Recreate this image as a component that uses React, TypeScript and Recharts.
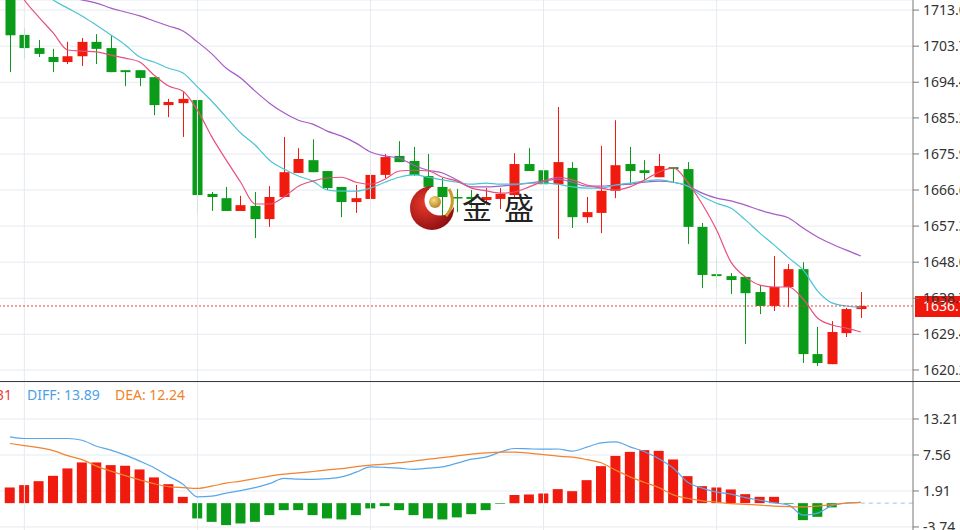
import React from "react";
import { ComposedChart, Bar, Line, XAxis, YAxis, CartesianGrid, ReferenceLine, Cell } from "recharts";

// candles (price units)
const open = [1718.2, 1706.6, 1703.2, 1700.9, 1699.6, 1701.1, 1704.8, 1703.2, 1697.5, 1697.5,
  1695.7, 1688.5, 1689.0, 1689.8, 1665.6, 1664.5, 1661.2, 1662.5, 1659.1, 1664.8,
  1671.0, 1674.3, 1671.5, 1667.4, 1663.5, 1664.3, 1670.5, 1675.4, 1674.1, 1670.2,
  1667.4, 1664.8, 1664.8, 1664.0, 1664.3, 1665.3, 1673.3, 1671.7, 1668.1, 1672.3,
  1659.6, 1660.7, 1666.4, 1673.3, 1671.7, 1669.9, 1672.5, 1672.0, 1657.1, 1644.9,
  1644.4, 1644.2, 1640.3, 1636.7, 1641.6, 1646.2, 1624.3, 1621.7, 1629.7, 1635.9]
const high = [1719.4, 1708.4, 1705.3, 1703.0, 1704.8, 1705.8, 1706.8, 1706.6, 1697.5, 1697.5,
  1695.7, 1690.1, 1691.9, 1690.6, 1666.1, 1667.4, 1665.1, 1666.1, 1667.6, 1680.3,
  1677.4, 1679.7, 1671.5, 1667.4, 1667.9, 1675.1, 1675.9, 1679.2, 1677.7, 1675.9,
  1669.7, 1666.9, 1666.6, 1667.1, 1667.1, 1676.1, 1677.4, 1672.8, 1688.0, 1673.8,
  1664.8, 1678.0, 1684.6, 1677.7, 1674.3, 1675.9, 1672.5, 1673.8, 1658.1, 1649.1,
  1645.2, 1644.2, 1641.9, 1649.6, 1647.5, 1648.0, 1631.3, 1632.8, 1636.2, 1640.3]
const low = [1697.0, 1700.4, 1700.9, 1697.0, 1699.1, 1698.6, 1699.1, 1697.0, 1693.4, 1693.4,
  1685.9, 1685.4, 1680.3, 1660.4, 1661.2, 1661.2, 1661.2, 1654.2, 1657.1, 1664.8,
  1671.0, 1671.2, 1666.6, 1659.6, 1660.7, 1663.5, 1669.7, 1673.8, 1670.2, 1666.6,
  1659.9, 1660.9, 1662.0, 1662.7, 1661.7, 1664.8, 1671.5, 1664.8, 1654.0, 1656.8,
  1658.1, 1655.5, 1664.5, 1667.9, 1669.2, 1669.9, 1668.4, 1652.7, 1641.3, 1641.3,
  1639.8, 1626.9, 1634.6, 1635.4, 1636.4, 1622.0, 1621.2, 1621.7, 1628.7, 1633.6]
const close = [1706.5, 1703.2, 1701.7, 1699.6, 1701.1, 1704.8, 1703.0, 1697.0, 1697.0, 1695.5,
  1688.5, 1689.3, 1690.1, 1665.3, 1664.8, 1661.2, 1662.7, 1659.1, 1664.8, 1671.2,
  1674.6, 1671.2, 1667.1, 1663.5, 1664.5, 1670.5, 1675.1, 1673.8, 1670.5, 1667.4,
  1664.8, 1664.5, 1664.3, 1664.8, 1665.6, 1673.3, 1671.5, 1668.1, 1673.8, 1659.6,
  1660.9, 1666.4, 1673.0, 1671.5, 1671.0, 1672.8, 1672.0, 1657.1, 1644.7, 1644.4,
  1643.4, 1640.0, 1636.7, 1641.6, 1646.2, 1624.3, 1622.0, 1630.0, 1635.9, 1636.7]

// moving averages as drawn
const ma5 = [1722.0, 1715.6, 1711.2, 1707.1, 1702.7, 1702.4, 1702.2, 1701.4, 1700.6, 1699.6,
  1696.2, 1693.4, 1692.1, 1687.2, 1680.3, 1674.3, 1668.6, 1663.0, 1663.0, 1664.8,
  1667.6, 1668.9, 1669.7, 1669.9, 1668.6, 1668.1, 1669.4, 1671.5, 1671.7, 1671.5,
  1669.9, 1668.9, 1667.1, 1666.4, 1665.8, 1666.1, 1667.4, 1668.9, 1669.9, 1669.2,
  1667.9, 1667.1, 1666.6, 1667.4, 1669.2, 1671.2, 1672.3, 1668.6, 1663.0, 1656.3,
  1648.0, 1644.2, 1642.1, 1641.6, 1641.6, 1638.5, 1633.6, 1631.8, 1631.0, 1630.0]
const ma10 = [1725.9, 1722.0, 1718.7, 1715.6, 1713.5, 1711.5, 1709.1, 1706.6, 1704.0, 1700.9,
  1699.6, 1698.0, 1696.8, 1693.2, 1689.5, 1685.4, 1681.3, 1678.2, 1674.3, 1672.0,
  1670.2, 1668.9, 1666.6, 1666.3, 1666.3, 1667.1, 1668.6, 1669.9, 1670.5, 1669.9,
  1669.2, 1668.6, 1668.1, 1668.4, 1668.1, 1668.1, 1668.4, 1668.4, 1668.1, 1667.4,
  1667.1, 1667.1, 1667.9, 1668.4, 1668.9, 1669.2, 1668.6, 1667.6, 1665.0, 1663.2,
  1661.9, 1658.9, 1655.5, 1652.4, 1649.1, 1646.0, 1640.6, 1637.5, 1636.7, 1636.4]
const ma20 = [1723.3, 1720.7, 1718.7, 1717.4, 1716.4, 1715.6, 1714.8, 1713.5, 1712.5, 1711.5,
  1710.2, 1708.9, 1707.6, 1704.8, 1701.7, 1698.0, 1695.5, 1692.1, 1689.0, 1686.5,
  1684.6, 1683.6, 1681.8, 1680.5, 1678.7, 1676.4, 1675.4, 1674.8, 1673.0, 1671.7,
  1671.0, 1669.2, 1667.4, 1667.4, 1667.6, 1667.9, 1668.4, 1668.9, 1669.4, 1668.6,
  1667.6, 1667.6, 1667.9, 1668.1, 1668.6, 1668.9, 1668.6, 1667.6, 1665.8, 1664.5,
  1663.8, 1662.7, 1661.4, 1660.4, 1659.4, 1656.8, 1654.5, 1652.7, 1651.1, 1649.6]

// MACD panel
const macd = [2.46, 2.83, 3.45, 4.29, 5.45, 6.39, 6.39, 5.97, 5.86, 5.29,
  4.04, 2.98, 0.99, -2.40, -2.94, -3.45, -3.19, -2.94, -1.88, -1.10,
  -1.10, -1.88, -2.40, -2.56, -1.88, -0.83, -0.47, -1.10, -1.88, -2.40,
  -2.56, -2.24, -1.73, -1.10, -0.10, 1.26, 1.36, 1.52, 2.20, 1.88,
  3.61, 5.81, 7.42, 8.05, 8.32, 8.21, 6.86, 4.24, 2.67, 2.46,
  2.15, 1.41, 0.99, 0.99, -0.10, -2.67, -2.15, -0.67, 0, 0]
const diff = [10.40, 10.15, 10.15, 10.15, 10.15, 9.88, 8.94, 8.32, 7.53, 6.59,
  5.57, 4.24, 2.98, 0.99, 1.10, 1.57, 1.96, 2.43, 3.06, 3.88,
  3.77, 3.72, 3.84, 4.13, 4.86, 5.70, 5.62, 5.49, 5.29, 5.49,
  5.70, 6.28, 6.90, 7.22, 8.00, 8.58, 8.52, 8.47, 8.50, 8.16,
  8.79, 9.46, 9.62, 8.84, 8.08, 6.98, 5.49, 3.29, 2.35, 1.73,
  1.41, 0.86, 0.47, 0.05, -0.31, -1.88, -1.57, -0.39, 0, 0.11]
const dea = [9.37, 9.02, 8.71, 8.24, 7.45, 6.83, 5.81, 5.02, 4.31, 3.66,
  3.06, 2.59, 2.43, 2.31, 2.67, 3.14, 3.45, 3.84, 4.24, 4.55,
  4.74, 4.97, 5.21, 5.41, 5.73, 5.96, 6.12, 6.35, 6.59, 6.90,
  7.14, 7.42, 7.69, 7.89, 8.00, 8.00, 7.85, 7.61, 7.37, 7.22,
  6.83, 6.35, 5.18, 4.13, 3.25, 2.43, 1.30, 0.74, 0.36, 0.16,
  -0.08, -0.20, -0.31, -0.47, -0.55, -0.58, -0.47, -0.24, 0, 0.11]

const priceTicks = [1713.0, 1703.7, 1694.4, 1685.2, 1675.9, 1666.6, 1657.3, 1648.0, 1638.7, 1629.4, 1620.2]
const macdTicks = [13.21, 7.56, 1.91, -3.74]
const gridAt = [1, 13, 25, 37, 49]
const lastPrice = 1636.7

const RED = "#f01a0e"
const GREEN = "#0a9c18"
const GRID = "#e5eaf1"
const X_DOMAIN = [-0.69, 62.62]

const rows = open.map((o, i) => ({
  i,
  open: o,
  high: high[i],
  low: low[i],
  close: close[i],
  range: [low[i], high[i]],
  ma5: ma5[i],
  ma10: ma10[i],
  ma20: ma20[i],
  macd: macd[i],
  diff: diff[i],
  dea: dea[i],
}))

const tickStyle = { fontSize: 14, fill: "#333", fontFamily: "'Noto Sans', sans-serif" }

function Candle(props: any) {
  const { x, y, width, height, payload } = props
  if (x == null || !payload) return null
  const top = Math.min(y, y + height)
  const h = Math.abs(height)
  const span = payload.high - payload.low || 1
  const py = (v: number) => top + ((payload.high - v) / span) * h
  const color = payload.close >= payload.open ? RED : GREEN
  const cx = Math.round(x + width / 2) + 0.5
  const yo = py(payload.open)
  const yc = py(payload.close)
  const bt = Math.min(yo, yc)
  const bh = Math.max(1.5, Math.abs(yo - yc))
  return (
    <g>
      <line x1={cx} x2={cx} y1={top} y2={top + h} stroke={color} strokeWidth={1} />
      <rect x={cx - 5} y={bt} width={10} height={bh} fill={color} />
    </g>
  )
}

function PriceTag(props: any) {
  const vb = props.viewBox || {}
  const x0 = (vb.x || 0) + (vb.width || 0) + 2
  const y0 = vb.y || 0
  return (
    <g>
      <rect x={x0} y={y0 - 10} width={50} height={21} fill="#f0170c" />
      <text x={x0 + 8} y={y0 + 5} fill="#fff" fontSize={14} fontFamily="'Noto Sans', sans-serif">
        {lastPrice.toFixed(1)}
      </text>
    </g>
  )
}

function PriceChart() {
  return (
    <ComposedChart width={960} height={382} data={rows} margin={{ top: 0, right: 0, bottom: 0, left: 0 }}>
      <CartesianGrid stroke={GRID} vertical={false} />
      <XAxis dataKey="i" type="number" domain={X_DOMAIN} allowDataOverflow hide />
      <YAxis
        orientation="right"
        width={47}
        domain={[1617.1, 1715.6]}
        allowDataOverflow
        ticks={priceTicks}
        tickFormatter={(v: number) => v.toFixed(1)}
        tick={tickStyle}
        tickSize={6}
        tickMargin={4}
        stroke="#777"
      />
      {gridAt.map((g) => (
        <ReferenceLine key={g} x={g} stroke={GRID} />
      ))}
      <Bar dataKey="range" barSize={10} shape={(p: any) => <Candle {...p} />} isAnimationActive={false} />
      <Line type="monotone" dataKey="ma20" stroke="#a65bc6" strokeWidth={1.2} dot={false} activeDot={false} isAnimationActive={false} />
      <Line type="monotone" dataKey="ma10" stroke="#4cc4d4" strokeWidth={1.2} dot={false} activeDot={false} isAnimationActive={false} />
      <Line type="monotone" dataKey="ma5" stroke="#e8507c" strokeWidth={1.2} dot={false} activeDot={false} isAnimationActive={false} />
      <ReferenceLine y={lastPrice} stroke="#e8453a" strokeDasharray="2 2" label={<PriceTag />} />
    </ComposedChart>
  )
}

function MacdChart() {
  return (
    <ComposedChart width={960} height={160} data={rows} margin={{ top: 0, right: 0, bottom: 0, left: 0 }}>
      <CartesianGrid stroke={GRID} vertical={false} />
      <XAxis dataKey="i" type="number" domain={X_DOMAIN} allowDataOverflow hide />
      <YAxis
        orientation="right"
        width={47}
        domain={[-6.1, 19.02]}
        allowDataOverflow
        ticks={macdTicks}
        tickFormatter={(v: number) => v.toFixed(2)}
        tick={tickStyle}
        tickSize={6}
        tickMargin={4}
        stroke="#777"
      />
      {gridAt.map((g) => (
        <ReferenceLine key={g} x={g} stroke={GRID} />
      ))}
      <ReferenceLine segment={[{ x: 59, y: 0 }, { x: X_DOMAIN[1], y: 0 }]} stroke="#9cc6e8" strokeDasharray="4 4" />
      <Bar dataKey="macd" barSize={10} isAnimationActive={false}>
        {rows.map((r) => (
          <Cell key={r.i} fill={r.macd >= 0 ? RED : GREEN} />
        ))}
      </Bar>
      <Line type="monotone" dataKey="diff" stroke="#5aa7e8" strokeWidth={1.2} dot={false} activeDot={false} isAnimationActive={false} />
      <Line type="monotone" dataKey="dea" stroke="#f28330" strokeWidth={1.2} dot={false} activeDot={false} isAnimationActive={false} />
    </ComposedChart>
  )
}

export default function App() {
  return (
    <div style={{ position: "absolute", left: 0, top: 0, width: 960, height: 530, overflow: "hidden", background: "#fff" }}>
      <div style={{ position: "absolute", left: 0, top: 0 }}>
        <PriceChart />
      </div>
      <div style={{ position: "absolute", left: 0, top: 382 }}>
        <MacdChart />
      </div>
      <div style={{ position: "absolute", left: 0, top: 381, width: 960, height: 1, background: "#3c3c3c" }} />
      <svg width={960} height={530} style={{ position: "absolute", left: 0, top: 0, pointerEvents: "none" }}>
        <defs>
          <radialGradient id="logoRed" cx="35%" cy="40%" r="70%">
            <stop offset="0%" stopColor="#e83a2c" />
            <stop offset="100%" stopColor="#8a0c10" />
          </radialGradient>
          <radialGradient id="logoGold" cx="40%" cy="35%" r="65%">
            <stop offset="0%" stopColor="#f6dc7a" />
            <stop offset="100%" stopColor="#b8862a" />
          </radialGradient>
          <mask id="crescent">
            <rect x={400} y={180} width={70} height={60} fill="#fff" />
            <circle cx={440} cy={200} r={15.5} fill="#000" />
          </mask>
        </defs>
        <circle cx={432} cy={208} r={22} fill="url(#logoRed)" mask="url(#crescent)" />
        <circle cx={435} cy={202} r={6} fill="url(#logoGold)" />
        <path d="M449 189 Q457 203 446 216" stroke="#c99a2e" strokeWidth={3} fill="none" />
        <text x={462} y={219} fontSize={30} letterSpacing={12} fill="#222" fontFamily="'Noto Sans CJK SC', sans-serif">
          金盛
        </text>
        <g fontSize={14} fontFamily="'Noto Sans', sans-serif">
          <text x={12} y={400} textAnchor="end" fill="#e8403a">31</text>
          <text x={27} y={400} fill="#4d9fe6">DIFF: 13.89</text>
          <text x={115} y={400} fill="#f0832a">DEA: 12.24</text>
        </g>
      </svg>
    </div>
  )
}
